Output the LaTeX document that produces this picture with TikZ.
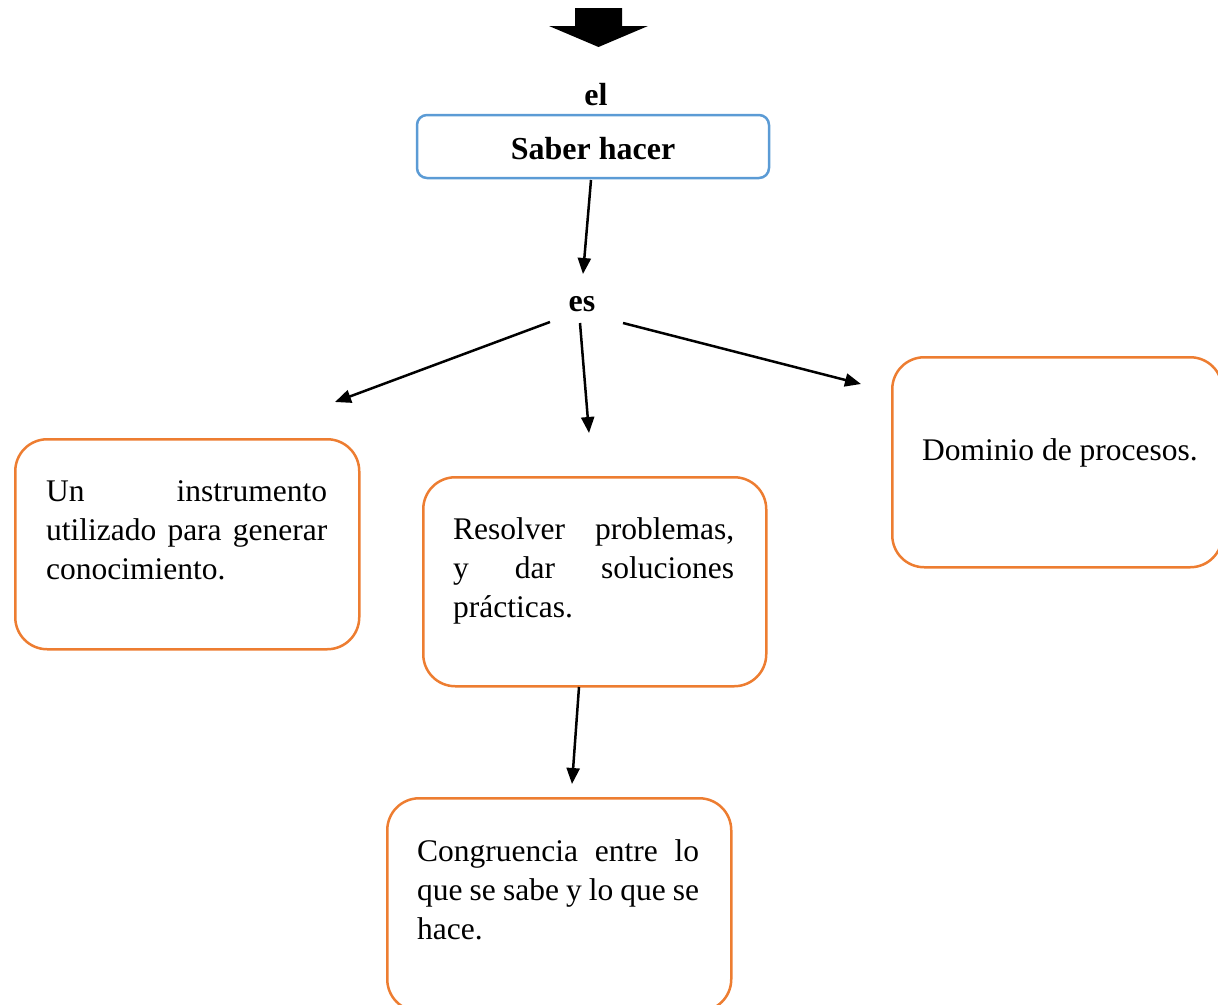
\documentclass[tikz,border=0pt]{standalone}
\usepackage{fontspec}
\setmainfont{Liberation Serif}
\usetikzlibrary{arrows.meta}
\definecolor{orng}{HTML}{ED7D31}
\definecolor{blu}{HTML}{5B9BD5}
\setlength{\parindent}{0pt}
\tolerance=10000\relax
\hyphenpenalty=10000\relax
\exhyphenpenalty=10000\relax
\begin{document}
\begin{tikzpicture}[x=1pt,y=-1pt,
  obox/.style={draw=orng, line width=2.5pt, rounded corners=32pt, rectangle, inner sep=0pt, anchor=north west},
  bbox/.style={draw=blu, line width=2.5pt, rounded corners=10pt, rectangle, inner sep=0pt, text height=25pt, text depth=0pt, font=\fontsize{32}{39}\selectfont\bfseries},
  txt/.style={inner sep=0pt, anchor=north west, text width=281pt, align=justify, font=\fontsize{31.5}{39}\selectfont},
  lbl/.style={inner sep=0pt, anchor=base, font=\fontsize{32}{39}\selectfont\bfseries},
  conn/.style={line width=2.5pt, -{Triangle[length=16pt,width=13pt]}}]
\useasboundingbox (0,0) rectangle (1218,1004);
% top block arrow
\fill (575,8) -- (622,8) -- (622,26) -- (648,26) -- (598.5,47) -- (549,26) -- (575,26) -- cycle;
% labels
\node[lbl] (el) at (596,105) {el};
\node[bbox, minimum width=352pt, minimum height=63pt] (saber) at (593,146.5) {Saber hacer};
\node[lbl] (es) at (582,311) {es};
% boxes
\node[obox, minimum width=344pt, minimum height=210pt] (b1) at (14,438) {};
\node[obox, minimum width=343pt, minimum height=209pt] (b2) at (422,476) {};
\node[obox, minimum width=330pt, minimum height=210pt] (b3) at (891,356) {};
\node[obox, minimum width=344pt, minimum height=213pt] (b4) at (386,797) {};
% texts
\node[txt] (t1) at (46,473.7) {\strut Un instrumento\linebreak utilizado para generar\linebreak conocimiento.};
\node[txt] (t2) at (453,511.7) {\strut Resolver problemas,\linebreak y dar soluciones\linebreak prácticas.};
\node[inner sep=0pt, anchor=base west, font=\fontsize{31.5}{39}\selectfont] (t3) at (922,460) {Dominio de procesos.};
\node[txt, text width=282pt] (t4) at (417,833.7) {\strut Congruencia entre lo\linebreak que se sabe y lo que se\linebreak hace.};
% connector end points
\coordinate (s0) at (591,180);
\coordinate (e0) at (583,274);
\coordinate (s1) at (550,322);
\coordinate (e1) at (335,402);
\coordinate (s2) at (580,323);
\coordinate (e2) at (589,433);
\coordinate (s3) at (623,323);
\coordinate (e3) at (861,384);
\coordinate (s4) at (579,687);
\coordinate (e4) at (572,784);
\draw[conn] (s0) -- (e0);
\draw[conn] (s1) -- (e1);
\draw[conn] (s2) -- (e2);
\draw[conn] (s3) -- (e3);
\draw[conn] (s4) -- (e4);
\end{tikzpicture}
\end{document}
